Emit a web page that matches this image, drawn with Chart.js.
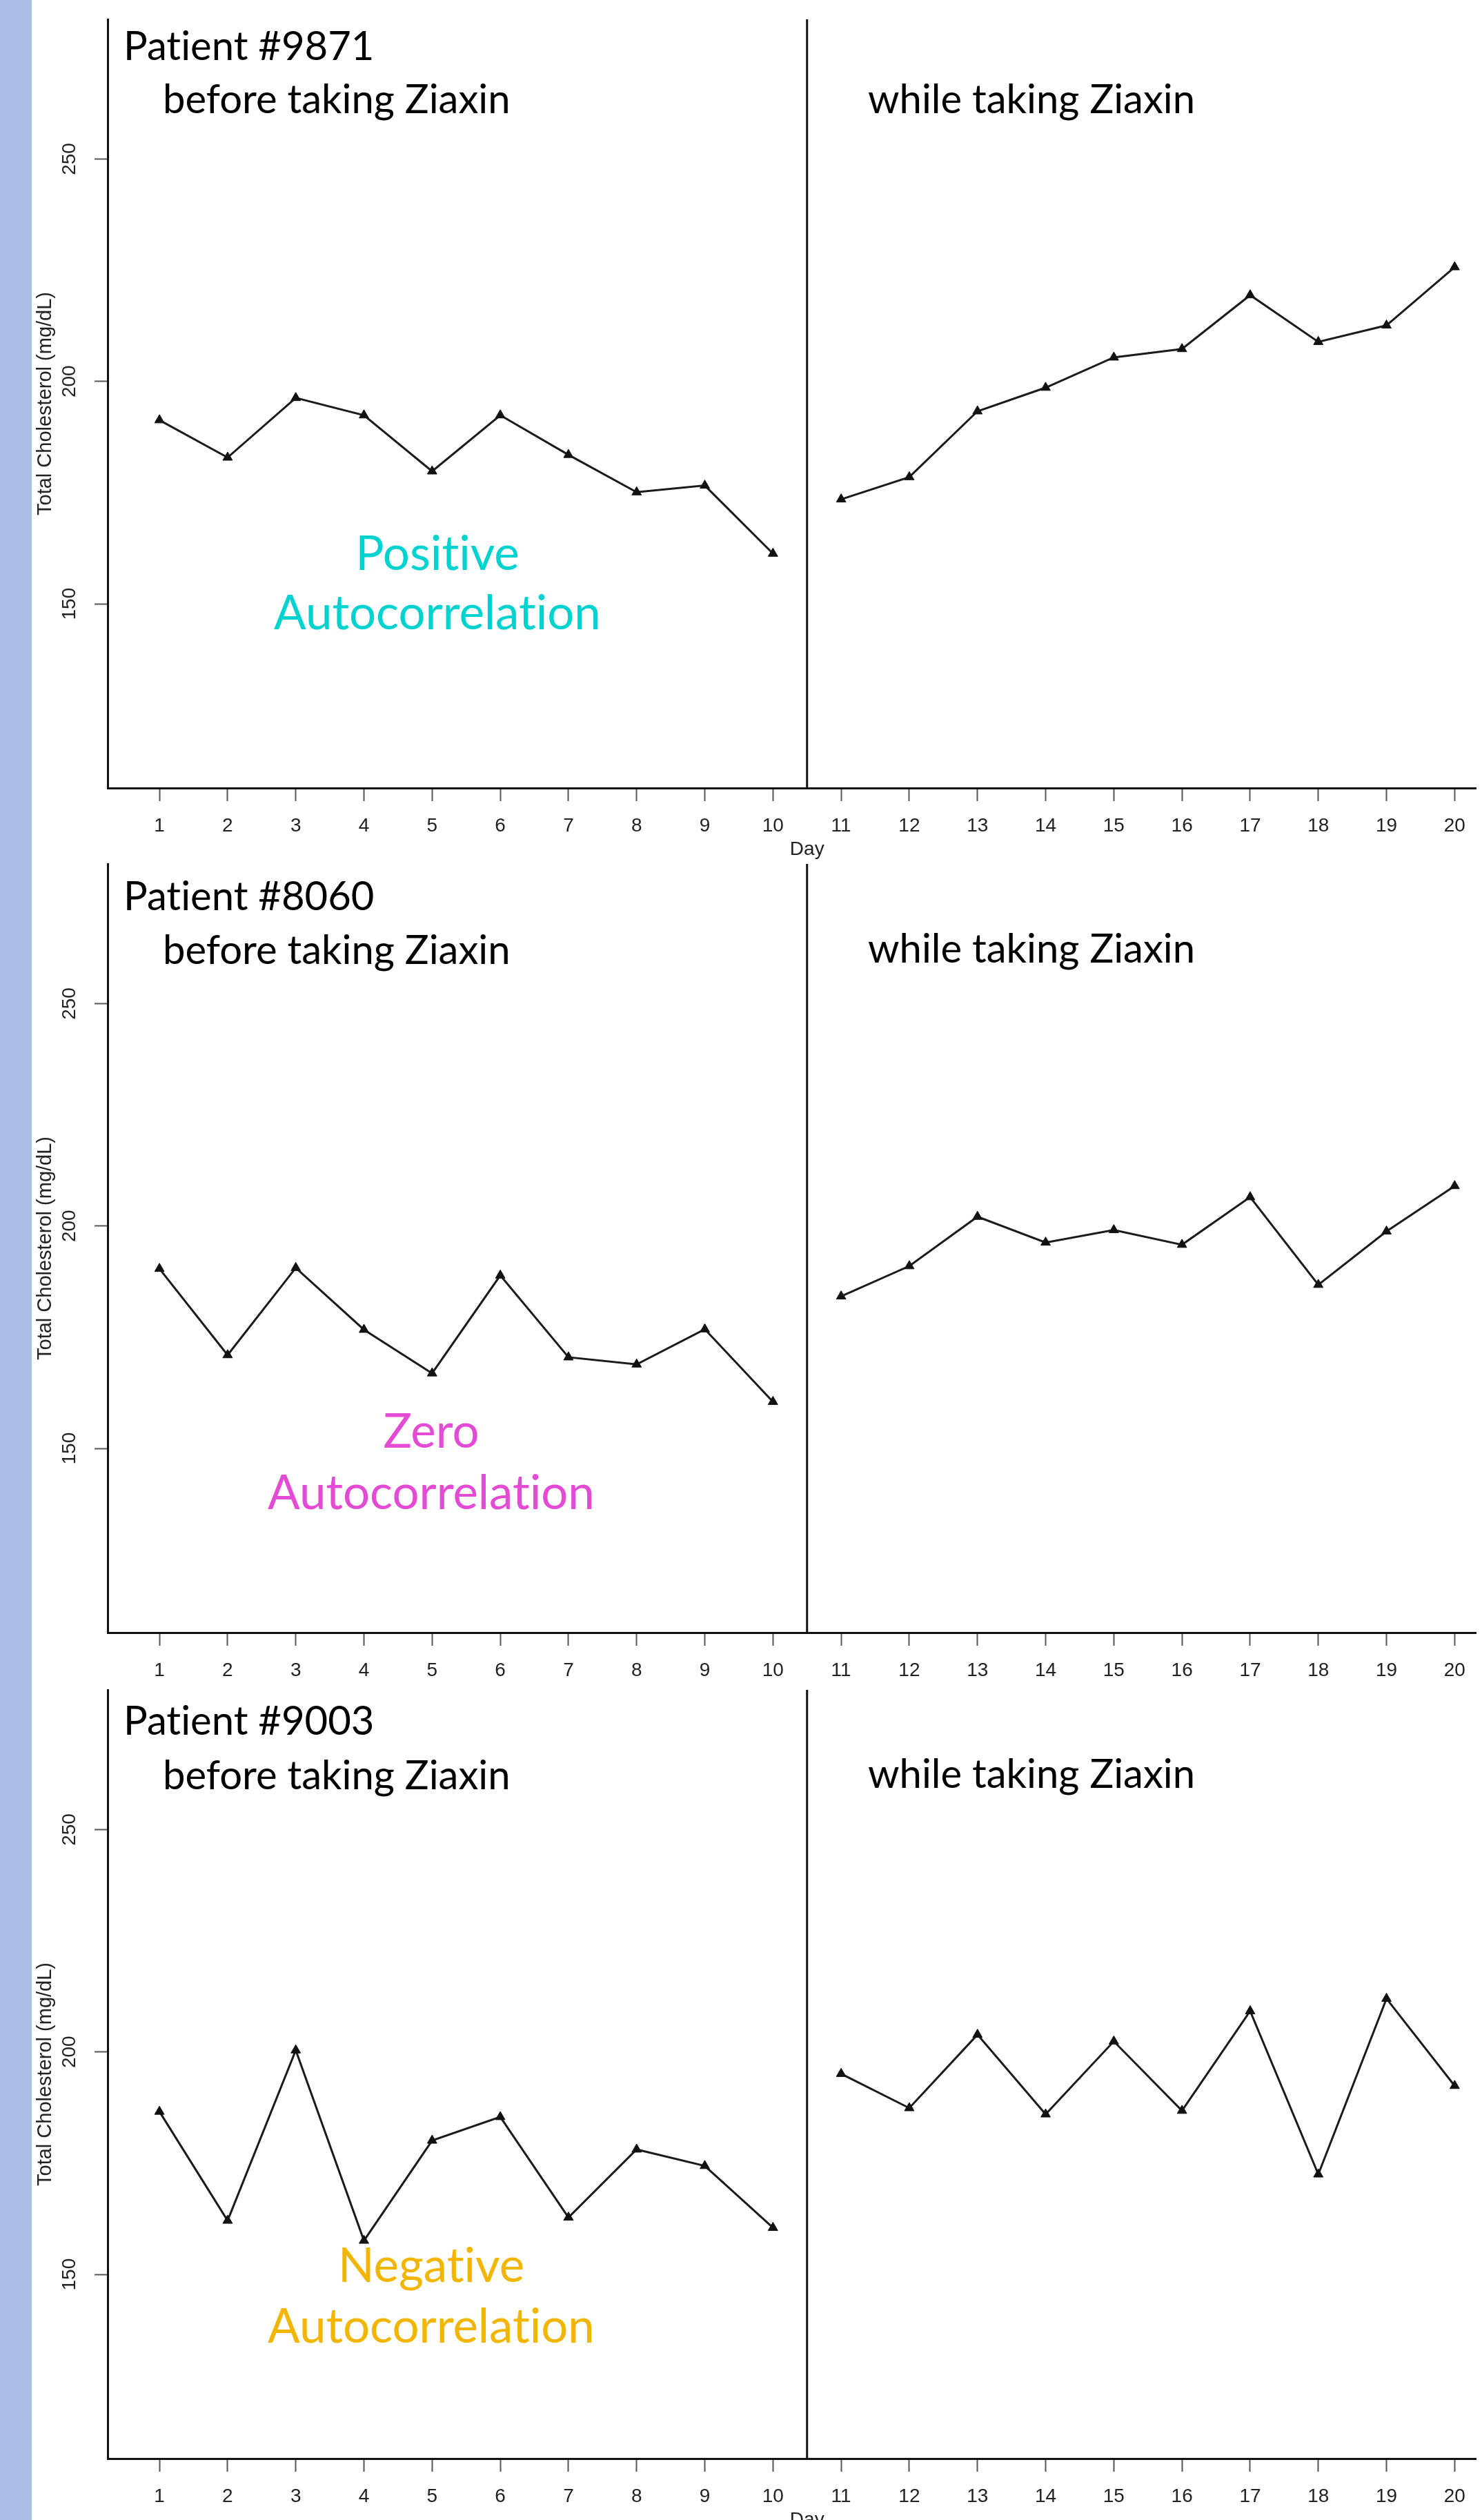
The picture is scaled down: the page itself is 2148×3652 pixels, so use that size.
<!DOCTYPE html>
<html>
<head>
<meta charset="utf-8">
<script src="https://cdn.jsdelivr.net/npm/chart.js@4.4.0/dist/chart.umd.min.js"></script>
<style>
  html, body { margin: 0; padding: 0; background: #fff; }
  body { width: 2148px; height: 3652px; position: relative; overflow: hidden; }
  #strip { position: absolute; left: 0; top: 0; width: 46px; height: 3652px; background: #abbfe6; }
  .panel { position: absolute; left: 0; }
  .note { position: absolute; white-space: nowrap; font-family: Lato, "Open Sans", sans-serif; line-height: 1.2;
          font-variant-ligatures: none; font-feature-settings: "liga" 0, "clig" 0; }
</style>
</head>
<body>
<div id="strip"></div>
<canvas id="c0" class="panel"></canvas>
<canvas id="c1" class="panel"></canvas>
<canvas id="c2" class="panel"></canvas>

<script>
// data
var days = [1, 2, 3, 4, 5, 6, 7, 8, 9, 10, 11, 12, 13, 14, 15, 16, 17, 18, 19, 20];
var p9871 = [191.3, 182.9, 196.3, 192.4, 179.8, 192.4, 183.5, 175.1, 176.6, 161.3,
             173.5, 178.5, 193.3, 198.6, 205.4, 207.3, 219.4, 208.9, 212.6, 225.7];
var p8060 = [190.4, 171.0, 190.6, 176.7, 166.9, 188.9, 170.5, 168.9, 176.8, 160.5,
             184.2, 191.0, 202.1, 196.3, 199.1, 195.8, 206.5, 186.8, 198.8, 209.0];
var p9003 = [186.6, 162.1, 200.4, 157.6, 180.1, 185.4, 162.8, 178.1, 174.4, 160.5,
             195.1, 187.4, 203.9, 186.0, 202.4, 186.8, 209.2, 172.5, 212.0, 192.4];
var yTicks = [150, 200, 250];
var splitDay = 10.5;
var yTitle = "Total Cholesterol (mg/dL)";
var xTitle = "Day";

var patients = ["Patient #9871", "Patient #8060", "Patient #9003"];
var series = [p9871, p8060, p9003];
var kinds = ["Positive", "Zero", "Negative"];
var kindColors = ["#00d2d0", "#e44bd4", "#f2b600"];

// layout (page pixels)
var chartTops = [28, 1252, 2449];
var plotH = 1114;
var padTop = 40;
var axisH = 110;
// the middle panel's "Day" is hidden under the bottom panel in the original
var showDay = [true, false, true];
var noteBase = [
  {patient: 85, before: 162, after: 162, kind: 825, auto: 911, cx: 634},
  {patient: 1317, before: 1395, after: 1393, kind: 2097, auto: 2186, cx: 625},
  {patient: 2512, before: 2591, after: 2589, kind: 3306, auto: 3394, cx: 625}
];

var rFont = '"Liberation Sans", Arial, sans-serif';

function addNote(text, x, base, size, color, centred) {
  var d = document.createElement("div");
  d.className = "note";
  d.textContent = text;
  d.style.fontSize = size + "px";
  d.style.color = color;
  d.style.left = x + "px";
  d.style.top = (base - 0.95 * size) + "px";
  if (centred) d.style.transform = "translateX(-50%)";
  document.body.appendChild(d);
}

function splitPlugin(withDay) {
  return {
    id: "split",
    beforeDatasetsDraw: function(chart) {
      var ctx = chart.ctx, area = chart.chartArea;
      var x = chart.scales.x.getPixelForValue(splitDay);
      ctx.save();
      ctx.strokeStyle = "#111";
      ctx.lineWidth = 3;
      ctx.beginPath();
      ctx.moveTo(x, area.top);
      ctx.lineTo(x, area.bottom);
      ctx.stroke();
      // x title sits under the middle of the R plot region, i.e. at the split
      if (withDay) {
        ctx.fillStyle = "#222";
        ctx.font = "28px " + rFont;
        ctx.textAlign = "center";
        ctx.textBaseline = "alphabetic";
        ctx.fillText(xTitle, x, area.bottom + 97);
      }
      ctx.restore();
    }
  };
}

function phase(values, from, to) {
  return days.slice(from, to).map(function(d, i) {
    return {x: d, y: values[from + i]};
  });
}

function lineStyle(points) {
  return {
    data: points,
    borderColor: "#1b1b1b",
    borderWidth: 3,
    tension: 0,
    fill: false,
    pointStyle: "triangle",
    pointRadius: 8,
    pointBackgroundColor: "#111",
    pointBorderColor: "#111",
    pointBorderWidth: 1
  };
}

var gridOpts = {
  drawOnChartArea: false,
  drawTicks: true,
  tickLength: 19,
  color: "#555",
  tickColor: "#555",
  tickWidth: 2
};
var borderOpts = {display: true, color: "#111", width: 3};

for (var i = 0; i < 3; i++) {
  var canvas = document.getElementById("c" + i);
  canvas.width = 2148;
  canvas.height = plotH + padTop + axisH;
  canvas.style.top = (chartTops[i] - padTop) + "px";

  new Chart(canvas, {
    type: "line",
    data: {
      datasets: [lineStyle(phase(series[i], 0, 10)), lineStyle(phase(series[i], 10, 20))]
    },
    options: {
      responsive: false,
      animation: false,
      layout: {padding: {top: padTop, left: 0, right: 0, bottom: 0}},
      plugins: {legend: {display: false}, tooltip: {enabled: false}},
      scales: {
        x: {
          type: "linear",
          min: 0.24,
          max: 20.31,
          afterBuildTicks: function(s) { s.ticks = days.map(function(v) { return {value: v}; }); },
          afterFit: function(s) { s.height = axisH; s.paddingLeft = 0; s.paddingRight = 0; },
          grid: gridOpts,
          border: borderOpts,
          ticks: {autoSkip: false, maxRotation: 0, padding: 19, color: "#222", font: {family: rFont, size: 28}}
        },
        y: {
          type: "linear",
          min: 108.6,
          max: 281.4,
          afterBuildTicks: function(s) { s.ticks = yTicks.map(function(v) { return {value: v}; }); },
          afterFit: function(s) { s.width = 156; s.paddingTop = 0; s.paddingBottom = 0; },
          grid: gridOpts,
          border: borderOpts,
          ticks: {minRotation: 90, maxRotation: 90, crossAlign: "center", padding: 12, color: "#222", font: {family: rFont, size: 28}},
          title: {display: true, text: yTitle, color: "#222", font: {family: rFont, size: 29}, padding: {top: 49, bottom: 0}}
        }
      }
    },
    plugins: [splitPlugin(showDay[i])]
  });

  var nb = noteBase[i];
  addNote(patients[i], 179, nb.patient, 58, "#000", false);
  addNote("before taking Ziaxin", 236, nb.before, 58, "#000", false);
  addNote("while taking Ziaxin", 1258, nb.after, 58, "#000", false);
  addNote(kinds[i], nb.cx, nb.kind, 69, kindColors[i], true);
  addNote("Autocorrelation", nb.cx, nb.auto, 69, kindColors[i], true);
}
</script>
</body>
</html>
